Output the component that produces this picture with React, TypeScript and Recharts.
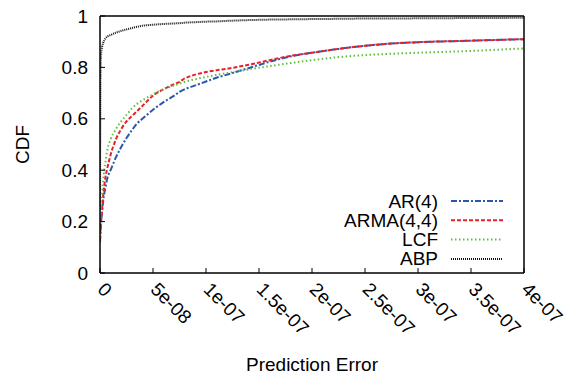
import React from 'react';
import { LineChart, Line, XAxis, YAxis } from 'recharts';

const errors = [0, 5e-10, 1e-9, 2e-9, 3e-9, 5e-9, 7e-9, 1e-8, 1.5e-8, 2e-8, 2.5e-8, 3e-8, 3.5e-8, 4e-8, 5e-8, 6e-8, 7e-8, 7.5e-8, 8e-8, 9e-8, 1e-7, 1.1e-7, 1.2e-7, 1.4e-7, 1.6e-7, 1.8e-7, 2e-7, 2.25e-7, 2.5e-7, 2.75e-7, 3e-7, 3.5e-7, 4e-7];
const ar4 = [0.12, 0.16, 0.19, 0.24, 0.28, 0.33, 0.37, 0.40, 0.45, 0.49, 0.525, 0.555, 0.582, 0.6, 0.635, 0.665, 0.69, 0.705, 0.715, 0.73, 0.745, 0.76, 0.772, 0.797, 0.822, 0.843, 0.857, 0.872, 0.884, 0.893, 0.898, 0.904, 0.91];
const arma44 = [0.13, 0.17, 0.2, 0.25, 0.3, 0.37, 0.41, 0.46, 0.52, 0.56, 0.59, 0.61, 0.63, 0.65, 0.69, 0.715, 0.735, 0.744, 0.757, 0.772, 0.782, 0.789, 0.795, 0.81, 0.828, 0.845, 0.857, 0.872, 0.884, 0.893, 0.898, 0.904, 0.91];
const lcf = [0.12, 0.2, 0.26, 0.31, 0.36, 0.43, 0.48, 0.52, 0.56, 0.59, 0.615, 0.64, 0.658, 0.672, 0.695, 0.715, 0.73, 0.737, 0.744, 0.754, 0.763, 0.771, 0.778, 0.792, 0.805, 0.817, 0.828, 0.84, 0.848, 0.853, 0.857, 0.864, 0.874];
const abp = [0.25, 0.8, 0.85, 0.88, 0.895, 0.912, 0.92, 0.926, 0.935, 0.942, 0.948, 0.953, 0.958, 0.962, 0.966, 0.969, 0.971, 0.972, 0.974, 0.976, 0.978, 0.979, 0.981, 0.984, 0.986, 0.987, 0.988, 0.989, 0.99, 0.99, 0.991, 0.992, 0.993];

const xTicks = [0, 5e-8, 1e-7, 1.5e-7, 2e-7, 2.5e-7, 3e-7, 3.5e-7, 4e-7];
const xTickLabels = ['0', '5e-08', '1e-07', '1.5e-07', '2e-07', '2.5e-07', '3e-07', '3.5e-07', '4e-07'];
const yTicks = [0, 0.2, 0.4, 0.6, 0.8, 1];
const yTickLabels = ['0', '0.2', '0.4', '0.6', '0.8', '1'];

const series = [
  { key: 'ar4', name: 'AR(4)', color: '#2a58ae', dash: '6 2 2 2' },
  { key: 'arma44', name: 'ARMA(4,4)', color: '#e82028', dash: '4 2' },
  { key: 'lcf', name: 'LCF', color: '#5cbf3e', dash: '1.5 2.5' },
  { key: 'abp', name: 'ABP', color: '#111111', dash: '1 1' },
];

const data = errors.map((e, i) => ({ e, ar4: ar4[i], arma44: arma44[i], lcf: lcf[i], abp: abp[i] }));

const FONT = '"Liberation Sans", Arial, sans-serif';
const FS = 19;

const XTick = (props: any) => {
  const { x, y, payload } = props;
  const idx = xTicks.indexOf(payload.value);
  const label = idx >= 0 ? xTickLabels[idx] : String(payload.value);
  return (
    <text x={x + 1} y={y} transform={`rotate(45, ${x + 1}, ${y})`} textAnchor="start" dominantBaseline="central" fontSize={FS} fontFamily={FONT} fill="#000">
      {label}
    </text>
  );
};

const YTick = (props: any) => {
  const { x, y, payload } = props;
  const idx = yTicks.indexOf(payload.value);
  const label = idx >= 0 ? yTickLabels[idx] : String(payload.value);
  return (
    <text x={x} y={y} textAnchor="end" dominantBaseline="central" fontSize={FS} fontFamily={FONT} fill="#000">
      {label}
    </text>
  );
};

const LegendBox = () => (
  <svg width={180} height={80} style={{ position: 'absolute', left: 340, top: 190, display: 'block' }}>
    {series.map((s, i) => (
      <g key={s.key}>
        <text x={98} y={11 + i * 19.3} textAnchor="end" dominantBaseline="central" fontSize={FS} fontFamily={FONT} fill="#000">
          {s.name}
        </text>
        <line x1={111} x2={163} y1={11 + i * 19.3} y2={11 + i * 19.3} stroke={s.color} strokeWidth={2} strokeDasharray={s.dash} />
      </g>
    ))}
  </svg>
);

export default function App() {
  return (
    <div style={{ position: 'absolute', left: 0, top: 0, width: 565, height: 381, background: '#fff', overflow: 'hidden' }}>
      <LineChart width={565} height={381} data={data} margin={{ top: 0, right: 0, left: 0, bottom: 0 }}>
        <XAxis
          dataKey="e"
          type="number"
          domain={[0, 4e-7]}
          ticks={xTicks}
          allowDataOverflow
          height={108}
          tickSize={-5}
          tickMargin={18}
          tick={<XTick />}
          axisLine={{ stroke: '#000', strokeWidth: 1.5 }}
          tickLine={{ stroke: '#000' }}
          label={{ value: 'Prediction Error', position: 'insideBottom', offset: 10, fontSize: FS, fontFamily: FONT, fill: '#000' }}
        />
        <XAxis
          xAxisId="top"
          orientation="top"
          dataKey="e"
          type="number"
          domain={[0, 4e-7]}
          ticks={xTicks}
          allowDataOverflow
          height={16}
          tickSize={-5}
          tick={false}
          axisLine={{ stroke: '#000', strokeWidth: 1.5 }}
          tickLine={{ stroke: '#000' }}
        />
        <YAxis
          type="number"
          domain={[0, 1]}
          ticks={yTicks}
          width={100}
          tickSize={-5}
          tickMargin={17}
          tick={<YTick />}
          axisLine={{ stroke: '#000', strokeWidth: 1.5 }}
          tickLine={{ stroke: '#000' }}
          label={{ value: 'CDF', angle: -90, position: 'insideLeft', offset: 22, fontSize: FS, fontFamily: FONT, fill: '#000', style: { textAnchor: 'middle' } }}
        />
        <YAxis
          yAxisId="right"
          orientation="right"
          type="number"
          domain={[0, 1]}
          ticks={yTicks}
          width={41}
          tickSize={-5}
          tick={false}
          axisLine={{ stroke: '#000', strokeWidth: 1.5 }}
          tickLine={{ stroke: '#000' }}
        />
        {series.map((s) => (
          <Line
            key={s.key}
            dataKey={s.key}
            name={s.name}
            type="monotone"
            stroke={s.color}
            strokeWidth={2}
            strokeDasharray={s.dash}
            dot={false}
            isAnimationActive={false}
          />
        ))}
      </LineChart>
      <LegendBox />
    </div>
  );
}
